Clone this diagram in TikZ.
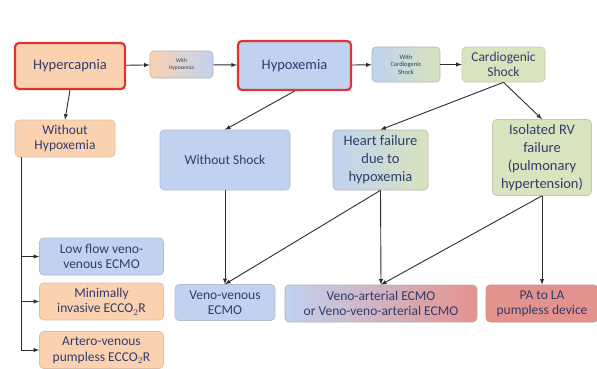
\documentclass[tikz,border=0pt]{standalone}
\usepackage{fontspec}
\setmainfont{Carlito}
\usepackage{tikz}

\definecolor{txtcol}{RGB}{48,60,108}
\definecolor{orfill}{RGB}{251,210,176}
\definecolor{blfill}{RGB}{192,210,240}
\definecolor{grfill}{RGB}{215,228,189}
\definecolor{rdfill}{RGB}{228,146,142}
\definecolor{redline}{RGB}{222,52,52}
\definecolor{arrcol}{RGB}{45,45,45}

\tikzset{
  box/.style={draw=gray!70, rounded corners=4pt, align=center, text=txtcol,
    font=\fontsize{13.5}{15.5}\selectfont, inner sep=1pt, line width=0.6pt},
  orbox/.style={box, fill=orfill, draw=orfill!75!gray},
  blbox/.style={box, fill=blfill, draw=blfill!75!gray},
  grbox/.style={box, fill=grfill, draw=grfill!75!gray},
  rdbox/.style={box, fill=rdfill, draw=rdfill!75!gray},
  keybox/.style={draw=redline, line width=2.2pt, font=\fontsize{14.5}{16}\selectfont},
  bigtext/.style={font=\fontsize{14.5}{18}\selectfont},
  smallbox/.style={font=\fontsize{5.5}{6.5}\selectfont},
  link/.style={-latex, draw=arrcol, line width=0.9pt}
}

\begin{document}
\begin{tikzpicture}[x=1pt,y=-1pt]
\useasboundingbox (0,0) rectangle (597,368);
\node[orbox,keybox,minimum width=110pt,minimum height=46pt] (hcap) at (70,66) {Hypercapnia};
\node[box,smallbox,left color=orfill,right color=blfill,draw=gray!60,minimum width=63pt,minimum height=27pt] (wh) at (181.5,64.5) {With\\Hypoxemia};
\node[blbox,keybox,minimum width=113pt,minimum height=49pt] (hyp) at (294.5,65.5) {Hypoxemia};
\node[box,smallbox,left color=blfill,right color=grfill,draw=gray!60,minimum width=68pt,minimum height=35pt,font=\fontsize{6.5}{7.5}\selectfont] (wcs) at (406,64.5) {With\\Cardiogenic\\Shock};
\node[grbox,minimum width=83pt,minimum height=35pt] (cs) at (503.5,64.5) {Cardiogenic\\Shock};
\node[orbox,minimum width=100pt,minimum height=37pt] (woh) at (65,138.5) {Without\\Hypoxemia};
\node[blbox,minimum width=130pt,minimum height=60pt] (wos) at (225,160) {Without Shock};
\node[box,bigtext,left color=blfill,right color=grfill,draw=gray!60,minimum width=95pt,minimum height=60pt] (hf) at (380.5,160) {Heart failure\\due to\\hypoxemia};
\node[grbox,bigtext,minimum width=99pt,minimum height=76pt] (rv) at (542,157.5) {Isolated RV\\failure\\(pulmonary\\hypertension)};
\node[blbox,minimum width=124pt,minimum height=37pt] (lf) at (101.5,256.5) {Low flow veno-\\venous ECMO};
\node[orbox,minimum width=124pt,minimum height=37pt] (mi) at (101.5,301.5) {Minimally\\invasive ECCO$_2$R};
\node[orbox,minimum width=124pt,minimum height=37pt] (av) at (101.5,350) {Artero-venous\\pumpless ECCO$_2$R};
\node[blbox,minimum width=100pt,minimum height=36pt] (vv) at (225,302.5) {Veno-venous\\ECMO};
\node[box,left color=blfill,right color=rdfill,draw=gray!60,minimum width=192pt,minimum height=37pt] (va) at (381,303.5) {Veno-arterial ECMO\\or Veno-veno-arterial ECMO};
\node[rdbox,minimum width=112pt,minimum height=37pt] (pa) at (542,303.5) {PA to LA\\pumpless device};

\draw[link] (hcap) -- (wh);
\draw[link] (wh) -- (hyp);
\draw[link] (hyp) -- (wcs);
\draw[link] (wcs) -- (cs);
\draw[link] (hcap.south) -- (woh.north);
\draw[link] (hyp.south) -- (wos.north);
\draw[link] (cs.south) -- (hf.north);
\draw[link] (cs.south) -- (rv.north);
\draw[link] (wos.south) -- (vv.north);
\draw[link] (hf.south) -- (vv.north);
\draw[link] (hf.south) -- (va.north);
\draw[link] (rv.south) -- (va.north);
\draw[link] (rv.south) -- (pa.north);
\coordinate (trunk) at ([xshift=7pt]woh.south west);
\draw[link] (trunk) |- (lf.west);
\draw[link] (trunk) |- (mi.west);
\draw[link] (trunk) |- (av.west);
\end{tikzpicture}
\end{document}
